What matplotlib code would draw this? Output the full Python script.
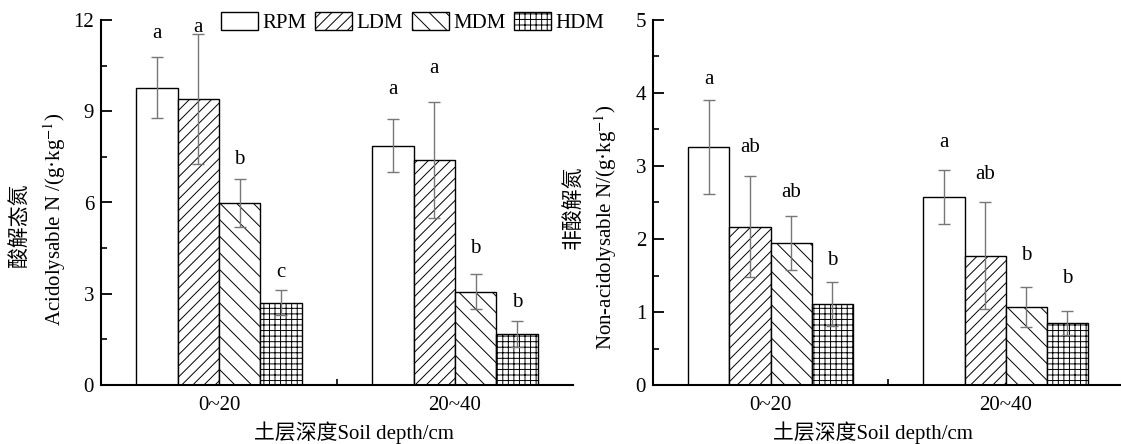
import matplotlib

matplotlib.use("Agg")
import matplotlib.pyplot as plt
import numpy as np

plt.rcParams["font.family"] = ["Liberation Serif", "Noto Sans CJK SC"]
plt.rcParams["mathtext.fontset"] = "stix"
plt.rcParams["hatch.linewidth"] = 0.7

depths = ["0~20", "20~40"]
treatments = ["RPM", "LDM", "MDM", "HDM"]
hatches = ["", "///", "\\\\", "+++"]

# acidolysable N, g/kg (rows: treatment, cols: depth)
acid_mean = [[9.78, 7.87], [9.40, 7.40], [5.98, 3.07], [2.71, 1.67]]
acid_err = [[1.00, 0.88], [2.15, 1.90], [0.80, 0.58], [0.42, 0.42]]
acid_letters = [["a", "a"], ["a", "a"], ["b", "b"], ["c", "b"]]
acid_letter_y = [[11.55, 9.73], [11.75, 10.42], [7.40, 4.50], [3.71, 2.70]]

# non-acidolysable N, g/kg
non_mean = [[3.26, 2.58], [2.17, 1.77], [1.94, 1.07], [1.11, 0.85]]
non_err = [[0.65, 0.37], [0.69, 0.73], [0.37, 0.27], [0.30, 0.17]]
non_letters = [["a", "a"], ["ab", "ab"], ["ab", "b"], ["b", "b"]]
non_letter_y = [[4.18, 3.32], [3.26, 2.88], [2.64, 1.78], [1.71, 1.46]]

W, H = 1121, 444
FS = 15
fig = plt.figure(figsize=(W / 100, H / 100), dpi=100)


def px(x0, x1, y0, y1):
    return [x0 / W, 1 - y1 / H, (x1 - x0) / W, (y1 - y0) / H]


def panel(ax, means, errs, letters, letter_y, ymax, major, minor, right):
    x = np.arange(len(depths))
    width = 0.175
    bars = []
    for i, name in enumerate(treatments):
        pos = x + (i - 1.5) * width
        b = ax.bar(
            pos, means[i], width, yerr=errs[i], label=name,
            facecolor="white", edgecolor="black", linewidth=1.0, hatch=hatches[i],
            error_kw=dict(ecolor="#777777", elinewidth=1.0, capsize=4, capthick=1.0),
        )
        bars.append(b)
        for j in range(len(depths)):
            ax.text(pos[j], letter_y[i][j], letters[i][j], ha="center", va="center",
                    fontsize=FS)
    ax.set_xlim(-0.5, right)
    ax.set_ylim(0, ymax)
    ax.set_yticks(np.arange(0, ymax + 0.01, major))
    ax.set_yticks(np.arange(0, ymax + 0.01, minor), minor=True)
    ax.set_xticks(x, depths)
    ax.set_xticks([0.5], minor=True)
    ax.tick_params(axis="x", which="major", length=0, pad=8, labelsize=FS)
    ax.tick_params(axis="x", which="minor", direction="in", length=4, width=1.2)
    ax.tick_params(axis="y", which="major", direction="in", length=8, width=1.3,
                   pad=5, labelsize=FS)
    ax.tick_params(axis="y", which="minor", direction="in", length=4.5, width=1.2)
    for side in ("top", "right"):
        ax.spines[side].set_visible(False)
    for side in ("left", "bottom"):
        ax.spines[side].set_linewidth(1.5)
    return bars


ax1 = fig.add_axes(px(101, 573, 20, 385))
bars = panel(ax1, acid_mean, acid_err, acid_letters, acid_letter_y, 12, 3, 1.5, 1.5)

ax2 = fig.add_axes(px(653, 1121, 20, 385))
panel(ax2, non_mean, non_err, non_letters, non_letter_y, 5, 1, 0.5, 1.49)

fig.legend(bars, treatments, loc="upper left", bbox_to_anchor=(221 / W, 1 - 12 / H),
           ncol=4, frameon=False, fontsize=FS, handlelength=1.78, handleheight=0.96,
           handletextpad=0.2, columnspacing=0.42, borderpad=0, borderaxespad=0)

fig.text(20 / W, 1 - 225 / H, "酸解态氮", rotation=90, ha="center", va="center", fontsize=FS)
fig.text(55 / W, 1 - 219 / H, "Acidolysable N /(g·kg$^{-1}$)", rotation=90,
         ha="center", va="center", fontsize=FS)
fig.text(574 / W, 1 - 207 / H, "非酸解氮", rotation=90, ha="center", va="center", fontsize=FS)
fig.text(606 / W, 1 - 227 / H, "Non-acidolysable N/(g·kg$^{-1}$)", rotation=90,
         ha="center", va="center", fontsize=FS)

fig.text(354 / W, 1 - 433 / H, "土层深度Soil depth/cm", ha="center", va="center", fontsize=FS)
fig.text(873 / W, 1 - 433 / H, "土层深度Soil depth/cm", ha="center", va="center", fontsize=FS)

fig.savefig("out.png", dpi=100)
